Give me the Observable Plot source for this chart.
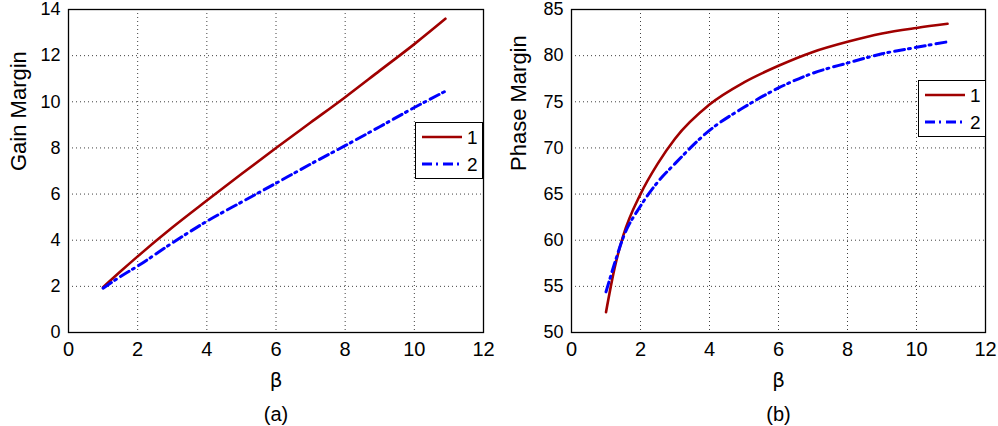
<!DOCTYPE html>
<html>
<head>
<meta charset="utf-8">
<script src="https://cdn.jsdelivr.net/npm/d3@7"></script>
<script src="https://cdn.jsdelivr.net/npm/@observablehq/plot@0.6"></script>
<style>
  body { margin: 0; background: #fff; font-family: "Liberation Sans", Arial, sans-serif; }
  #wrap { position: relative; width: 998px; height: 426px; display: flex; }
  .legend { position: absolute; background: #fff; border: 1.3px solid #000; box-sizing: border-box; }
</style>
</head>
<body>
<div id="wrap"></div>
<script>
// ---- data ----
const betaGain = [1, 1.5, 2, 3, 4, 5, 6, 7, 8, 9, 10, 10.9];
const gain1 = [1.96, 2.64, 3.3, 4.55, 5.72, 6.87, 8.0, 9.1, 10.2, 11.35, 12.5, 13.6];
const gain2 = [1.92, 2.42, 2.88, 3.88, 4.82, 5.65, 6.47, 7.3, 8.1, 8.92, 9.75, 10.46];
const betaPhase = [1, 1.25, 1.5, 2, 2.5, 3, 4, 5, 6, 7, 8, 9, 10, 10.9];
const phase1 = [52.2, 57.0, 60.5, 65.0, 68.3, 71.0, 74.7, 77.1, 78.9, 80.4, 81.5, 82.4, 83.0, 83.45];
const phase2 = [54.4, 57.5, 60.3, 63.7, 66.3, 68.3, 71.9, 74.4, 76.5, 78.1, 79.2, 80.2, 80.9, 81.5];
const seriesNames = ["1", "2"];
const xTicks = [0, 2, 4, 6, 8, 10, 12];
const gainTicks = [0, 2, 4, 6, 8, 10, 12, 14];
const phaseTicks = [50, 55, 60, 65, 70, 75, 80, 85];

const RED = "#a00000", BLUE = "#0000ff";
const styles = [
  {stroke: RED, dash: null, width: 2.6},
  {stroke: BLUE, dash: "10,4,2,5", width: 3}
];
const FONT = "Liberation Sans, Arial, sans-serif";

function panel({xs, ys, yDomain, yTicks, yLabel, caption, marginLeft, marginRight, ylabDx}) {
  const data = [];
  ys.forEach((arr, s) => arr.forEach((v, i) => data.push({x: xs[i], y: v, s: seriesNames[s]})));
  return Plot.plot({
    width: 499, height: 426,
    marginTop: 9, marginBottom: 94, marginLeft, marginRight,
    style: {fontFamily: FONT, fontSize: "19px", color: "#000", background: "#fff", overflow: "visible"},
    x: {domain: [0, 12]},
    y: {domain: yDomain},
    marks: [
      Plot.gridX(xTicks.slice(1, -1), {stroke: "#000", strokeOpacity: 0.75, strokeDasharray: "1,3", strokeWidth: 1}),
      Plot.gridY(yTicks.slice(1, -1), {stroke: "#000", strokeOpacity: 0.75, strokeDasharray: "1,3", strokeWidth: 1}),
      Plot.axisX({ticks: xTicks, tickSize: 0, tickPadding: 9, label: null, fontSize: 20}),
      Plot.axisY({ticks: yTicks, tickSize: 0, tickPadding: 8, label: null, fontSize: 18}),
      ...seriesNames.map((name, k) => Plot.line(data.filter(d => d.s === name), {
        x: "x", y: "y", stroke: styles[k].stroke, strokeWidth: styles[k].width,
        strokeDasharray: styles[k].dash, curve: "monotone-x"
      })),
      Plot.frame({stroke: "#000", strokeWidth: 1.3}),
      Plot.text(["β"], {frameAnchor: "bottom", dy: 48, lineAnchor: "middle", fontSize: 20, fontFamily: "DejaVu Sans, sans-serif"}),
      Plot.text([caption], {frameAnchor: "bottom", dy: 82, lineAnchor: "middle", fontSize: 20}),
      Plot.text([yLabel], {frameAnchor: "left", dx: ylabDx, rotate: -90, lineAnchor: "middle", fontSize: 22})
    ]
  });
}

const wrap = document.getElementById("wrap");
wrap.appendChild(panel({xs: betaGain, ys: [gain1, gain2], yDomain: [0, 14], yTicks: gainTicks, yLabel: "Gain Margin",
  caption: "(a)", marginLeft: 68, marginRight: 16, ylabDx: -50}));
wrap.appendChild(panel({xs: betaPhase, ys: [phase1, phase2], yDomain: [50, 85], yTicks: phaseTicks, yLabel: "Phase Margin",
  caption: "(b)", marginLeft: 72, marginRight: 13, ylabDx: -53}));

function legend(left, top) {
  const div = document.createElement("div");
  div.className = "legend";
  Object.assign(div.style, {left: left + "px", top: top + "px", width: "68px", height: "57px"});
  const ns = "http://www.w3.org/2000/svg";
  const svg = document.createElementNS(ns, "svg");
  svg.setAttribute("width", 66); svg.setAttribute("height", 55);
  seriesNames.forEach((name, k) => {
    const y = 14 + k * 27;
    const ln = document.createElementNS(ns, "line");
    ln.setAttribute("x1", 6); ln.setAttribute("x2", 46); ln.setAttribute("y1", y); ln.setAttribute("y2", y);
    ln.setAttribute("stroke", styles[k].stroke); ln.setAttribute("stroke-width", styles[k].width);
    if (styles[k].dash) ln.setAttribute("stroke-dasharray", styles[k].dash);
    svg.appendChild(ln);
    const t = document.createElementNS(ns, "text");
    t.setAttribute("x", 51); t.setAttribute("y", y + 7);
    t.setAttribute("font-size", 19); t.setAttribute("font-family", FONT);
    t.textContent = name;
    svg.appendChild(t);
  });
  div.appendChild(svg);
  wrap.appendChild(div);
}
legend(415, 122);
legend(918, 80);
</script>
</body>
</html>
